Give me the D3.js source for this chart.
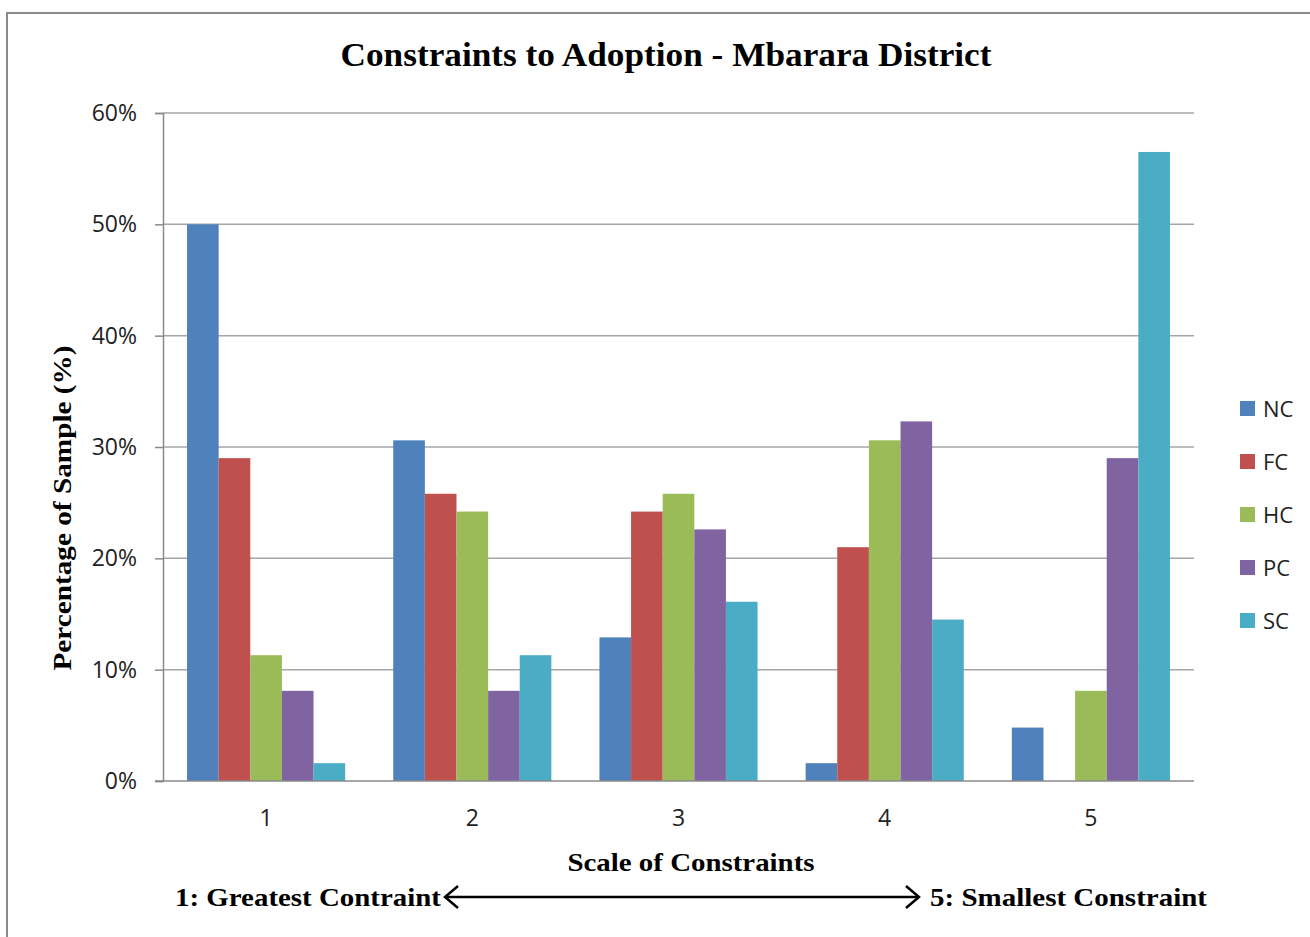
<!DOCTYPE html>
<html>
<head>
<meta charset="utf-8">
<script src="https://cdnjs.cloudflare.com/ajax/libs/d3/7.8.5/d3.min.js"></script>
<style>
  body { margin: 0; background: #fff; }
</style>
</head>
<body>
<svg id="chart" width="1310" height="937"></svg>
<script>

// data (percent of sample, n = 62)
var categories = ['1', '2', '3', '4', '5'];
var series_names = ['NC', 'FC', 'HC', 'PC', 'SC'];
var series_colors = ['#4F81BD', '#C0504D', '#9BBB59', '#8064A2', '#4BACC6'];
var nc_values = [50.0, 30.6, 12.9, 1.6, 4.8];
var fc_values = [29.0, 25.8, 24.2, 21.0, 0];
var hc_values = [11.3, 24.2, 25.8, 30.6, 8.1];
var pc_values = [8.1, 8.1, 22.6, 32.3, 29.0];
var sc_values = [1.6, 11.3, 16.1, 14.5, 56.5];
var y_ticks = [0, 10, 20, 30, 40, 50, 60];

var series_values = [nc_values, fc_values, hc_values, pc_values, sc_values];

function draw_chart(){

    var svg = d3.select('#chart');
    var serif = '"Liberation Serif", "Times New Roman", serif';
    var sans = '"Open Sans", "Liberation Sans", sans-serif';

    // outer frame
    svg.append('rect')
        .attr('x', 7).attr('y', 13)
        .attr('width', 1320).attr('height', 950)
        .attr('fill', 'none')
        .attr('stroke', '#8a8a8a')
        .attr('stroke-width', 2);

    var left = 163, right = 1194, top = 113, bottom = 781;

    var x0 = d3.scaleBand().domain(categories).range([left, right]).padding(0);
    var x1 = d3.scaleBand().domain(series_names).range([0, x0.bandwidth()]).paddingInner(0).paddingOuter(0.76);
    var y = d3.scaleLinear().domain([0, 60]).range([bottom, top]);

    // gridlines
    svg.append('g').selectAll('line')
        .data(y_ticks.filter(function(d){ return d > 0; }))
        .enter().append('line')
        .attr('x1', left).attr('x2', right)
        .attr('y1', function(d){ return y(d); })
        .attr('y2', function(d){ return y(d); })
        .attr('stroke', '#a6a6a6')
        .attr('stroke-width', 1.5);

    // y axis
    var yAxis = d3.axisLeft(y).tickValues(y_ticks).tickSize(8).tickPadding(18)
        .tickFormat(function(d){ return d + '%'; });
    var gy = svg.append('g').attr('transform', 'translate(' + left + ',0)').call(yAxis);
    gy.select('.domain').attr('stroke', '#8a8a8a').attr('stroke-width', 1.5);
    gy.selectAll('.tick line').attr('stroke', '#8a8a8a').attr('stroke-width', 1.5);
    gy.selectAll('.tick text')
        .style('font-family', sans).style('font-size', '23px').attr('fill', '#222');

    // bars
    var groups = svg.append('g').selectAll('g')
        .data(categories)
        .enter().append('g')
        .attr('transform', function(d){ return 'translate(' + x0(d) + ',0)'; });

    groups.selectAll('rect')
        .data(function(c, ci){
            return series_names.map(function(s, si){
                return {name: s, value: series_values[si][ci], color: series_colors[si]};
            });
        })
        .enter().append('rect')
        .attr('x', function(d){ return x1(d.name); })
        .attr('width', x1.bandwidth())
        .attr('y', function(d){ return y(d.value); })
        .attr('height', function(d){ return y(0) - y(d.value); })
        .attr('fill', function(d){ return d.color; });

    // x axis
    var xAxis = d3.axisBottom(x0).tickSize(0).tickPadding(29);
    var gx = svg.append('g').attr('transform', 'translate(0,' + bottom + ')').call(xAxis);
    gx.select('.domain').remove();
    gx.selectAll('.tick text')
        .style('font-family', sans).style('font-size', '23px').attr('fill', '#222');
    svg.append('line')
        .attr('x1', left - 8).attr('x2', right)
        .attr('y1', bottom).attr('y2', bottom)
        .attr('stroke', '#8a8a8a').attr('stroke-width', 1.5);

    // titles
    svg.append('text')
        .attr('x', 666).attr('y', 66)
        .attr('text-anchor', 'middle')
        .attr('textLength', 651).attr('lengthAdjust', 'spacingAndGlyphs')
        .style('font-family', serif).style('font-weight', 'bold').style('font-size', '34px')
        .text('Constraints to Adoption - Mbarara District');

    svg.append('text')
        .attr('transform', 'translate(71,508) rotate(-90)')
        .attr('text-anchor', 'middle')
        .attr('textLength', 325).attr('lengthAdjust', 'spacingAndGlyphs')
        .style('font-family', serif).style('font-weight', 'bold').style('font-size', '26px')
        .text('Percentage of Sample (%)');

    svg.append('text')
        .attr('x', 691).attr('y', 871)
        .attr('text-anchor', 'middle')
        .attr('textLength', 247).attr('lengthAdjust', 'spacingAndGlyphs')
        .style('font-family', serif).style('font-weight', 'bold').style('font-size', '26px')
        .text('Scale of Constraints');

    svg.append('text')
        .attr('x', 175).attr('y', 906)
        .attr('textLength', 266).attr('lengthAdjust', 'spacingAndGlyphs')
        .style('font-family', serif).style('font-weight', 'bold').style('font-size', '26px')
        .text('1: Greatest Contraint');

    svg.append('text')
        .attr('x', 930).attr('y', 906)
        .attr('textLength', 277).attr('lengthAdjust', 'spacingAndGlyphs')
        .style('font-family', serif).style('font-weight', 'bold').style('font-size', '26px')
        .text('5: Smallest Constraint');

    // double arrow
    var ay = 897;
    svg.append('line')
        .attr('x1', 446).attr('x2', 918).attr('y1', ay).attr('y2', ay)
        .attr('stroke', '#000').attr('stroke-width', 2.5);
    svg.append('path')
        .attr('d', 'M458,' + (ay - 11) + ' L445,' + ay + ' L458,' + (ay + 11))
        .attr('fill', 'none').attr('stroke', '#000').attr('stroke-width', 2.5);
    svg.append('path')
        .attr('d', 'M906,' + (ay - 11) + ' L919,' + ay + ' L906,' + (ay + 11))
        .attr('fill', 'none').attr('stroke', '#000').attr('stroke-width', 2.5);

    // legend
    var legend = svg.append('g').selectAll('g')
        .data(series_names)
        .enter().append('g')
        .attr('transform', function(d, i){ return 'translate(1240,' + (408 + i * 53) + ')'; });
    legend.append('rect')
        .attr('x', 0).attr('y', -7).attr('width', 15).attr('height', 15)
        .attr('fill', function(d, i){ return series_colors[i]; });
    legend.append('text')
        .attr('x', 23).attr('y', 9)
        .style('font-family', sans).style('font-size', '22px').attr('fill', '#222')
        .text(function(d){ return d; });
}

draw_chart();

</script>
</body>
</html>
